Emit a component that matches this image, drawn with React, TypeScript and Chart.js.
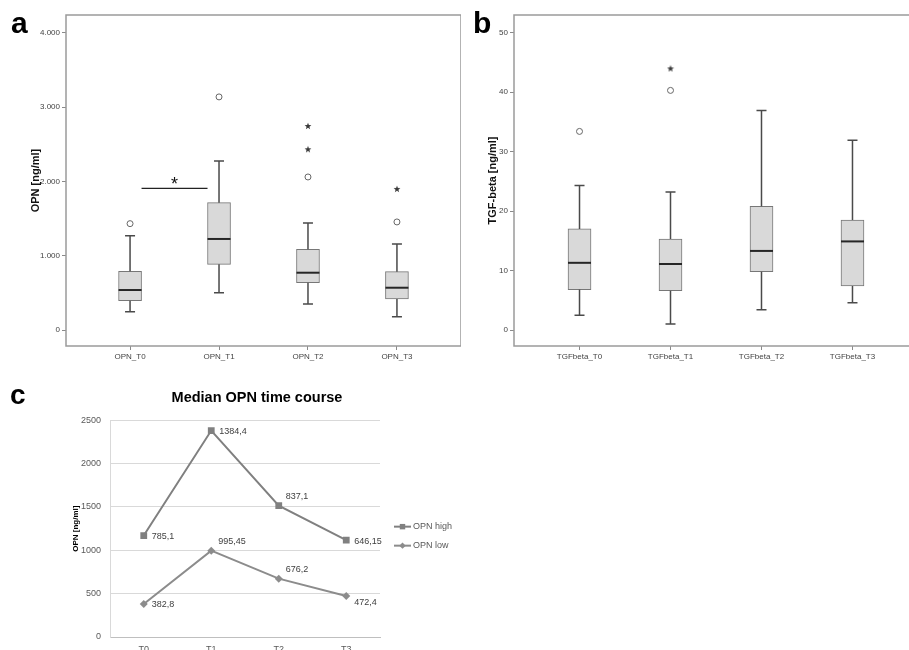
import React, { useEffect, useRef } from "react";
import { Chart, registerables } from "chart.js";
import { drawPoint } from "chart.js/helpers";

Chart.register(...registerables);

const SANS = '"Liberation Sans", Arial, sans-serif';

// ---------- Panel a: OPN box plot ----------
const OPN_CATEGORIES = ["OPN_T0", "OPN_T1", "OPN_T2", "OPN_T3"];
const OPN_TICKS = [0, 1000, 2000, 3000, 4000];
const OPN_TICK_LABELS = ["0", "1.000", "2.000", "3.000", "4.000"];
const OPN_MIN = [246, 502, 350, 179];
const OPN_Q1 = [394, 884, 637, 417];
const OPN_MEDIAN = [538, 1225, 771, 569];
const OPN_Q3 = [790, 1713, 1086, 785];
const OPN_MAX = [1269, 2274, 1440, 1157];
const OPN_OUTLIERS = [[1431], [3136], [2059], [1454]];
const OPN_EXTREMES = [[], [], [2432, 2745], [1898]];
const OPN_SIGNIFICANCE = { from: 0, to: 1, value: 1906, label: "*" };

// ---------- Panel b: TGF-beta box plot ----------
const TGF_CATEGORIES = ["TGFbeta_T0", "TGFbeta_T1", "TGFbeta_T2", "TGFbeta_T3"];
const TGF_TICKS = [0, 10, 20, 30, 40, 50];
const TGF_TICK_LABELS = ["0", "10", "20", "30", "40", "50"];
const TGF_MIN = [2.5, 1.0, 3.4, 4.6];
const TGF_Q1 = [6.8, 6.6, 9.8, 7.4];
const TGF_MEDIAN = [11.3, 11.1, 13.3, 14.9];
const TGF_Q3 = [17.0, 15.3, 20.8, 18.5];
const TGF_MAX = [24.3, 23.2, 36.9, 31.9];
const TGF_OUTLIERS = [[33.4], [40.3], [], []];
const TGF_EXTREMES = [[], [44.0], [], []];

// ---------- Panel c: median OPN time course ----------
const TIME_POINTS = ["T0", "T1", "T2", "T3"];
const OPN_HIGH = [1170, 2382, 1516, 1117];
const OPN_LOW = [381, 996, 673, 473];
const OPN_HIGH_LABELS = ["785,1", "1384,4", "837,1", "646,15"];
const OPN_LOW_LABELS = ["382,8", "995,45", "676,2", "472,4"];
const OPN_HIGH_LABEL_PLACE = ["right", "right", "above", "right"];
const OPN_LOW_LABEL_PLACE = ["right", "above", "above", "below"];
const LINE_Y_MAX = 2500;
const LINE_Y_STEP = 500;

function makeStar(color: string) {
  const c = document.createElement("canvas");
  c.width = 8;
  c.height = 8;
  const g = c.getContext("2d")!;
  g.fillStyle = color;
  g.beginPath();
  for (let k = 0; k < 10; k++) {
    const r = k % 2 === 0 ? 3.6 : 1.5;
    const ang = -Math.PI / 2 + (k * Math.PI) / 5;
    const px = 4 + r * Math.cos(ang);
    const py = 4.3 + r * Math.sin(ang);
    if (k === 0) g.moveTo(px, py);
    else g.lineTo(px, py);
  }
  g.closePath();
  g.fill();
  return c;
}

type BoxSpec = {
  categories: string[];
  ticks: number[];
  tickLabels: string[];
  min: number[];
  q1: number[];
  median: number[];
  q3: number[];
  max: number[];
  outliers: number[][];
  extremes: number[][];
  yMin: number;
  yMax: number;
  yTitle: string;
  letter: string;
  axisWidth: number;
  titlePad: number;
  sig?: { from: number; to: number; value: number; label: string } | null;
};

function BoxPanel({ spec, left, width }: { spec: BoxSpec; left: number; width: number }) {
  const ref = useRef<HTMLCanvasElement>(null);
  useEffect(() => {
    const canvas = ref.current!;
    const star = makeStar("#3a3a3a");
    const outlierPts: { x: number; y: number }[] = [];
    spec.outliers.forEach((arr, i) => arr.forEach((v) => outlierPts.push({ x: i, y: v })));
    const extremePts: { x: number; y: number }[] = [];
    spec.extremes.forEach((arr, i) => arr.forEach((v) => extremePts.push({ x: i, y: v })));

    const extras = {
      id: "boxExtras",
      afterDatasetsDraw(chart: any) {
        const { ctx, chartArea: a, scales } = chart;
        const x = scales.x;
        const y = scales.y;
        const bars = chart.getDatasetMeta(0).data;
        ctx.save();
        spec.median.forEach((m, i) => {
          const px = x.getPixelForValue(i);
          const bw = bars[i].width;
          const cap = 10;
          const yq1 = y.getPixelForValue(spec.q1[i]);
          const yq3 = y.getPixelForValue(spec.q3[i]);
          const ylo = y.getPixelForValue(spec.min[i]);
          const yhi = y.getPixelForValue(spec.max[i]);
          ctx.strokeStyle = "#4a4a4a";
          ctx.lineWidth = 1.5;
          ctx.beginPath();
          ctx.moveTo(px, yq3);
          ctx.lineTo(px, yhi);
          ctx.moveTo(px - cap / 2, yhi);
          ctx.lineTo(px + cap / 2, yhi);
          ctx.moveTo(px, yq1);
          ctx.lineTo(px, ylo);
          ctx.moveTo(px - cap / 2, ylo);
          ctx.lineTo(px + cap / 2, ylo);
          ctx.stroke();
          const ym = y.getPixelForValue(m);
          ctx.strokeStyle = "#262626";
          ctx.lineWidth = 2;
          ctx.beginPath();
          ctx.moveTo(px - bw / 2, ym);
          ctx.lineTo(px + bw / 2, ym);
          ctx.stroke();
        });
        if (spec.sig) {
          const s = spec.sig;
          const x0 = bars[s.from].x + bars[s.from].width / 2;
          const x1 = bars[s.to].x - bars[s.to].width / 2;
          const ys = y.getPixelForValue(s.value);
          ctx.strokeStyle = "#222";
          ctx.lineWidth = 1.2;
          ctx.beginPath();
          ctx.moveTo(x0, ys);
          ctx.lineTo(x1, ys);
          ctx.stroke();
          ctx.fillStyle = "#111";
          ctx.font = "18px " + SANS;
          ctx.textAlign = "center";
          ctx.textBaseline = "alphabetic";
          ctx.fillText(s.label, (x0 + x1) / 2, ys + 2);
        }
        ctx.strokeStyle = "#9a9a9a";
        ctx.lineWidth = 1.5;
        ctx.strokeRect(a.left, a.top, a.right - a.left, a.bottom - a.top);
        ctx.fillStyle = "#000";
        ctx.font = "bold 30px " + SANS;
        ctx.textAlign = "left";
        ctx.textBaseline = "alphabetic";
        ctx.fillText(spec.letter, 11, 33);
        ctx.restore();
      },
    };

    const tickFont = { family: SANS, size: 8 };
    const chart = new Chart(canvas, {
      type: "bar",
      data: {
        datasets: [
          {
            type: "bar",
            data: spec.q1.map((q, i) => ({ x: i, y: [q, spec.q3[i]] })) as any,
            backgroundColor: "#d9d9d9",
            borderColor: "#777777",
            borderWidth: 1,
            borderSkipped: false,
            barThickness: 23,
          } as any,
          {
            type: "scatter",
            data: outlierPts,
            pointStyle: "circle",
            pointRadius: 3,
            borderColor: "#666",
            backgroundColor: "#fff",
            borderWidth: 1,
          } as any,
          {
            type: "scatter",
            data: extremePts,
            pointStyle: star,
            pointRadius: 4,
          } as any,
        ],
      },
      options: {
        responsive: false,
        animation: false,
        layout: { autoPadding: false, padding: { top: 15, left: 0, right: 0, bottom: 0 } },
        plugins: { legend: { display: false }, tooltip: { enabled: false } },
        scales: {
          x: {
            type: "linear",
            offset: false,
            min: -0.72,
            max: 3.72,
            afterBuildTicks: (s: any) => {
              s.ticks = spec.categories.map((_, i) => ({ value: i }));
            },
            ticks: {
              callback: (v: any) => spec.categories[Math.round(v)],
              font: tickFont,
              color: "#444",
              padding: 2,
              maxRotation: 0,
              autoSkip: false,
            },
            grid: { offset: false, drawOnChartArea: false, tickLength: 4, color: "#8a8a8a", lineWidth: 1 },
            border: { display: false },
            afterFit: (s: any) => {
              s.height = 24;
              s.paddingLeft = 0;
              s.paddingRight = 0;
            },
          },
          y: {
            type: "linear",
            min: spec.yMin,
            max: spec.yMax,
            afterBuildTicks: (s: any) => {
              s.ticks = spec.ticks.map((v) => ({ value: v }));
            },
            ticks: {
              callback: (v: any) => spec.tickLabels[spec.ticks.indexOf(v)],
              font: tickFont,
              color: "#444",
              padding: 2,
            },
            grid: { drawOnChartArea: false, tickLength: 4, color: "#8a8a8a", lineWidth: 1 },
            border: { display: false },
            title: {
              display: true,
              text: spec.yTitle,
              font: { family: SANS, size: 11, weight: "bold" },
              color: "#111",
              padding: { top: spec.titlePad, bottom: 0 },
            },
            afterFit: (s: any) => {
              s.width = spec.axisWidth;
              s.paddingTop = 0;
              s.paddingBottom = 0;
            },
          },
        },
      } as any,
      plugins: [extras],
    });
    return () => chart.destroy();
  }, [spec]);
  return (
    <canvas
      ref={ref}
      width={width}
      height={370}
      style={{ position: "absolute", left, top: 0, display: "block" }}
    />
  );
}

const SPEC_A: BoxSpec = {
  categories: OPN_CATEGORIES,
  ticks: OPN_TICKS,
  tickLabels: OPN_TICK_LABELS,
  min: OPN_MIN,
  q1: OPN_Q1,
  median: OPN_MEDIAN,
  q3: OPN_Q3,
  max: OPN_MAX,
  outliers: OPN_OUTLIERS,
  extremes: OPN_EXTREMES,
  yMin: -215,
  yMax: 4238,
  yTitle: "OPN [ng/ml]",
  letter: "a",
  axisWidth: 66,
  titlePad: 29,
  sig: OPN_SIGNIFICANCE,
};

const SPEC_B: BoxSpec = {
  categories: TGF_CATEGORIES,
  ticks: TGF_TICKS,
  tickLabels: TGF_TICK_LABELS,
  min: TGF_MIN,
  q1: TGF_Q1,
  median: TGF_MEDIAN,
  q3: TGF_Q3,
  max: TGF_MAX,
  outliers: TGF_OUTLIERS,
  extremes: TGF_EXTREMES,
  yMin: -2.69,
  yMax: 52.98,
  yTitle: "TGF-beta [ng/ml]",
  letter: "b",
  axisWidth: 52,
  titlePad: 24,
  sig: null,
};

function LinePanel() {
  const ref = useRef<HTMLCanvasElement>(null);
  useEffect(() => {
    const canvas = ref.current!;
    const labelSets = [OPN_HIGH_LABELS, OPN_LOW_LABELS];
    const placeSets = [OPN_HIGH_LABEL_PLACE, OPN_LOW_LABEL_PLACE];
    const extras = {
      id: "lineExtras",
      afterDatasetsDraw(chart: any) {
        const { ctx, chartArea: a } = chart;
        ctx.save();
        ctx.font = "9px " + SANS;
        ctx.fillStyle = "#404040";
        ctx.textAlign = "left";
        ctx.textBaseline = "middle";
        chart.data.datasets.forEach((ds: any, di: number) => {
          const meta = chart.getDatasetMeta(di);
          meta.data.forEach((pt: any, i: number) => {
            const place = placeSets[di][i];
            const dy = place === "above" ? -9 : place === "below" ? 7 : 1;
            const dx = place === "above" ? 7 : 8;
            ctx.fillText(labelSets[di][i], pt.x + dx, pt.y + dy);
          });
        });
        // legend
        const lx = a.right + 14;
        const cy = (a.top + a.bottom) / 2;
        chart.data.datasets.forEach((ds: any, di: number) => {
          const ly = cy - 2 + di * 19;
          ctx.strokeStyle = ds.borderColor;
          ctx.lineWidth = 2;
          ctx.beginPath();
          ctx.moveTo(lx, ly);
          ctx.lineTo(lx + 17, ly);
          ctx.stroke();
          ctx.fillStyle = ds.backgroundColor;
          drawPoint(ctx, { pointStyle: ds.pointStyle, radius: ds.pointRadius * 0.8, borderWidth: 0, rotation: 0 } as any, lx + 8.5, ly);
          ctx.fillStyle = "#595959";
          ctx.font = "9px " + SANS;
          ctx.fillText(ds.label, lx + 19, ly);
        });
        ctx.fillStyle = "#000";
        ctx.font = "bold 28px " + SANS;
        ctx.textBaseline = "alphabetic";
        ctx.fillText("c", 10, 34);
        ctx.restore();
      },
    };
    const tickFont = { family: SANS, size: 9 };
    const chart = new Chart(canvas, {
      type: "line",
      data: {
        labels: TIME_POINTS,
        datasets: [
          {
            label: "OPN high",
            data: OPN_HIGH,
            borderColor: "#808080",
            backgroundColor: "#808080",
            borderWidth: 2,
            pointStyle: "rect",
            pointRadius: 4.8,
            pointBorderWidth: 0,
            tension: 0,
          },
          {
            label: "OPN low",
            data: OPN_LOW,
            borderColor: "#8c8c8c",
            backgroundColor: "#8c8c8c",
            borderWidth: 2,
            pointStyle: "rectRot",
            pointRadius: 4,
            pointBorderWidth: 0,
            tension: 0,
          },
        ],
      },
      options: {
        responsive: false,
        animation: false,
        layout: { autoPadding: false, padding: 0 },
        plugins: {
          legend: { display: false },
          tooltip: { enabled: false },
          title: {
            display: true,
            text: "Median OPN time course",
            font: { family: SANS, size: 14.5, weight: "bold" },
            color: "#000",
            padding: { top: 19, bottom: 13.9 },
          },
        },
        scales: {
          x: {
            offset: true,
            grid: { display: false, drawTicks: false },
            border: { display: true, color: "#bfbfbf", width: 1 },
            ticks: { font: tickFont, color: "#595959", padding: 7 },
            afterFit: (s: any) => {
              s.height = 23;
            },
          },
          y: {
            min: 0,
            max: LINE_Y_MAX,
            ticks: {
              stepSize: LINE_Y_STEP,
              font: tickFont,
              color: "#595959",
              padding: 9,
              callback: (v: any) => String(v),
            },
            grid: { color: "#d9d9d9", drawTicks: false },
            border: { display: true, color: "#d9d9d9" },
            title: {
              display: true,
              text: "OPN [ng/ml]",
              font: { family: SANS, size: 8, weight: "bold" },
              color: "#000",
              padding: { top: 71, bottom: 0 },
            },
            afterFit: (s: any) => {
              s.width = 110;
            },
          },
          spacer: {
            type: "linear",
            position: "right",
            display: true,
            min: 0,
            max: 1,
            grid: { display: false },
            ticks: { display: false },
            border: { display: false },
            afterFit: (s: any) => {
              s.width = 134;
            },
          },
        },
      } as any,
      plugins: [extras],
    });
    return () => chart.destroy();
  }, []);
  return (
    <canvas
      ref={ref}
      width={514}
      height={290}
      style={{ position: "absolute", left: 0, top: 370, display: "block" }}
    />
  );
}

export default function App() {
  return (
    <div
      style={{
        position: "fixed",
        left: 0,
        top: 0,
        width: 909,
        height: 650,
        overflow: "hidden",
        background: "#fff",
      }}
    >
      <BoxPanel spec={SPEC_A} left={0} width={461} />
      <BoxPanel spec={SPEC_B} left={462} width={456} />
      <LinePanel />
    </div>
  );
}
